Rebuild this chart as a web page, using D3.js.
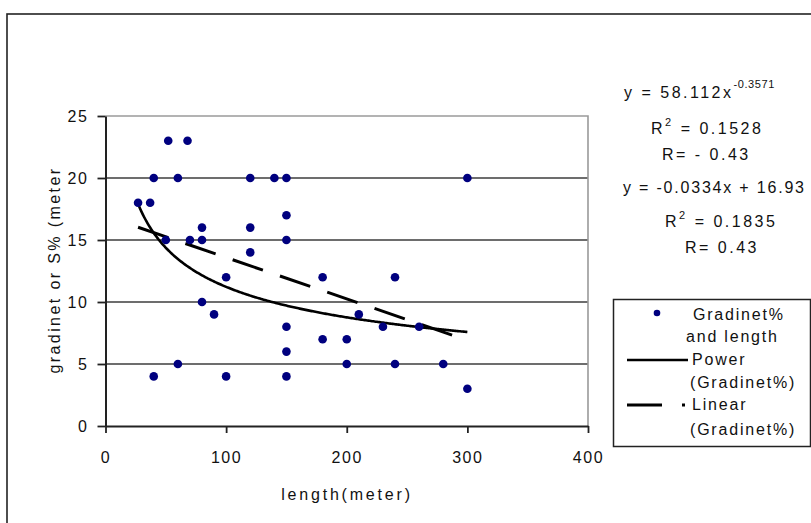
<!DOCTYPE html>
<html>
<head>
<meta charset="utf-8">
<script src="https://cdn.jsdelivr.net/npm/d3@7"></script>
<style>
  html, body { margin: 0; padding: 0; background: #fff; }
  svg { display: block; }
  text { font-family: "Liberation Sans", Arial, sans-serif; fill: #111; }
</style>
</head>
<body>
<svg id="chart" width="811" height="523"></svg>
<script>
// ---- data ----
const lengthM = [27, 37, 40, 52, 68, 60, 120, 140, 150, 150, 80, 120, 50, 70, 80, 150, 120, 100, 80, 90, 150, 150, 60, 40, 100, 150, 180, 240, 210, 230, 260, 180, 200, 200, 240, 280, 300, 300];
const gradient = [18, 18, 20, 23, 23, 20, 20, 20, 20, 17, 16, 16, 15, 15, 15, 15, 14, 12, 10, 9, 8, 6, 5, 4, 4, 4, 12, 12, 9, 8, 8, 7, 7, 5, 5, 5, 3, 20];
const xTicks = [0, 100, 200, 300, 400];
const yTicks = [0, 5, 10, 15, 20, 25];
const powerCoef = [58.112, -0.3571];   // y = a * x^b
const linearCoef = [-0.0334, 16.93];   // y = m x + c
const legendLabels = [["Gradinet%", "and length"], ["Power", "(Gradinet%)"], ["Linear", "(Gradinet%)"]];
const xTitle = "length(meter)";
const yTitle = "gradinet or S% (meter";

const svg = d3.select("#chart");
const navy = "#00007f";

// outer chart frame (extends past the window on right/bottom)
svg.append("rect").attr("x", 7).attr("y", 14).attr("width", 830).attr("height", 540)
  .attr("fill", "#fff").attr("stroke", "#222").attr("stroke-width", 1.6);

const x = d3.scaleLinear().domain([0, 400]).range([105.5, 588]);
const y = d3.scaleLinear().domain([0, 25]).range([426, 116]);

// gridlines
svg.append("g").selectAll("line").data(yTicks.filter(v => v > 0 && v < 25)).join("line")
  .attr("x1", x(0)).attr("x2", x(400)).attr("y1", d => y(d)).attr("y2", d => y(d))
  .attr("stroke", "#3c3c3c").attr("stroke-width", 1.6);
// plot-area border top/right (gray)
svg.append("path")
  .attr("d", `M${x(0)},${y(25)}H${x(400)}V${y(0)}`)
  .attr("fill", "none").attr("stroke", "#9a9a9a").attr("stroke-width", 1.6);

// axes
const yAxis = svg.append("g").attr("transform", `translate(${x(0)},0)`)
  .call(d3.axisLeft(y).tickValues(yTicks).tickSize(8).tickSizeOuter(0).tickPadding(9));
const xAxis = svg.append("g").attr("transform", `translate(0,${y(0)})`)
  .call(d3.axisBottom(x).tickValues(xTicks).tickSize(7).tickSizeOuter(0).tickPadding(19));
[yAxis, xAxis].forEach(g => {
  g.select(".domain").attr("stroke", "#222").attr("stroke-width", 2);
  g.selectAll(".tick line").attr("stroke", "#222").attr("stroke-width", 1.8);
  g.selectAll(".tick text").attr("font-family", "Liberation Sans, Arial, sans-serif")
    .attr("font-size", 16).attr("fill", "#111").style("letter-spacing", "1.6px");
});

// trendlines
const xs = d3.range(d3.min(lengthM), d3.max(lengthM) + 0.5, 1);
const line = d3.line().x(d => x(d[0])).y(d => y(d[1]));
svg.append("path").datum(xs.map(v => [v, powerCoef[0] * Math.pow(v, powerCoef[1])]))
  .attr("d", line).attr("fill", "none").attr("stroke", "#000").attr("stroke-width", 2.6);
svg.append("path").datum([d3.min(lengthM), d3.max(lengthM)].map(v => [v, linearCoef[0] * v + linearCoef[1]]))
  .attr("d", line).attr("fill", "none").attr("stroke", "#000").attr("stroke-width", 3)
  .attr("stroke-dasharray", "32,18");

// points
svg.append("g").selectAll("circle").data(lengthM.map((v, i) => [v, gradient[i]])).join("circle")
  .attr("cx", d => x(d[0])).attr("cy", d => y(d[1])).attr("r", 4.3).attr("fill", navy);

// axis titles
svg.append("text").attr("x", 347).attr("y", 500).attr("text-anchor", "middle")
  .attr("font-size", 16).style("letter-spacing", "2.8px").text(xTitle);
svg.append("text").attr("transform", "translate(60,270) rotate(-90)").attr("text-anchor", "middle")
  .attr("font-size", 16).style("letter-spacing", "2.4px").text(yTitle);

// equations
const eq = svg.append("g").attr("font-size", 16).style("letter-spacing", "2.5px");
const e1 = eq.append("text").attr("x", 624).attr("y", 98);
e1.append("tspan").text("y = 58.112x");
e1.append("tspan").attr("dy", -10).attr("font-size", 11).style("letter-spacing", "0.6px").text("-0.3571");
function r2(xp, yp, val) {
  const t = eq.append("text").attr("x", xp).attr("y", yp);
  t.append("tspan").text("R");
  t.append("tspan").attr("dy", -8).attr("font-size", 11).text("2");
  t.append("tspan").attr("dy", 8).text(" = " + val);
}
r2(651, 134, "0.1528");
eq.append("text").attr("x", 662).attr("y", 160).text("R= - 0.43");
eq.append("text").attr("x", 623).attr("y", 193).style("letter-spacing", "1.8px").text("y = -0.0334x + 16.93");
r2(665, 227, "0.1835");
eq.append("text").attr("x", 685).attr("y", 253).text("R= 0.43");

// legend
const lg = svg.append("g");
lg.append("rect").attr("x", 613.5).attr("y", 299.5).attr("width", 197).attr("height", 147)
  .attr("fill", "#fff").attr("stroke", "#222").attr("stroke-width", 1.5);
lg.append("circle").attr("cx", 657).attr("cy", 313).attr("r", 3.3).attr("fill", navy);
lg.append("line").attr("x1", 627).attr("x2", 688).attr("y1", 360).attr("y2", 360)
  .attr("stroke", "#000").attr("stroke-width", 2.6);
lg.append("line").attr("x1", 627).attr("x2", 662).attr("y1", 405).attr("y2", 405)
  .attr("stroke", "#000").attr("stroke-width", 3);
lg.append("rect").attr("x", 682).attr("y", 403.5).attr("width", 3).attr("height", 3).attr("fill", "#000");
const lt = lg.append("g").attr("font-size", 16).style("letter-spacing", "1.8px");
const legendPos = [[[693, 320], [686, 342]], [[692, 365], [690, 388]], [[692, 410], [690, 435]]];
legendLabels.forEach((pair, i) => pair.forEach((s, j) => {
  lt.append("text").attr("x", legendPos[i][j][0]).attr("y", legendPos[i][j][1]).text(s);
}));
</script>
</body>
</html>
